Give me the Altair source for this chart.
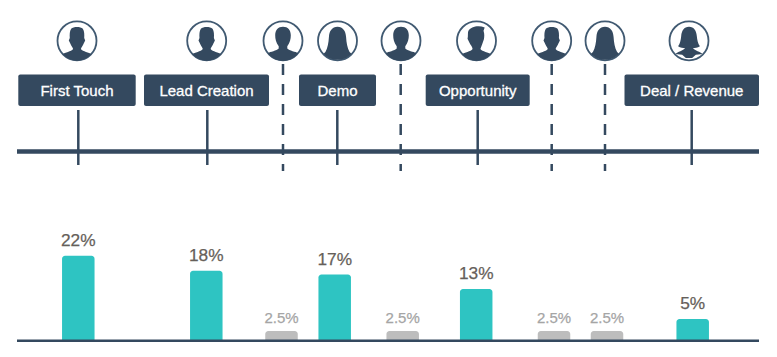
import altair as alt
import pandas as pd

# ---- chart values -------------------------------------------------------
stage_names = ["First Touch", "Lead Creation", "Demo", "Opportunity", "Deal / Revenue"]
stage_left = [18.3, 144, 299, 425.7, 624.5]
stage_right = [135.7, 269, 376, 529.7, 759]
stage_tick = [78.3, 207.3, 337.3, 477.7, 691.7]

touch_tick = [283, 400.7, 551.7, 605]

icon_x = [77, 206.7, 283, 337.5, 401, 476.5, 551.7, 605, 689]
icon_kind = ["man", "man", "man2", "woman", "man2", "man3", "man", "woman", "woman2"]

bar_center = [78.3, 206.3, 281.5, 334.7, 402.7, 476.2, 554, 607, 692.7]
bar_value = [22.1, 18.3, 2.8, 17.3, 2.8, 13.6, 2.8, 2.8, 5.9]
bar_label = ["22%", "18%", "2.5%", "17%", "2.5%", "13%", "2.5%", "2.5%", "5%"]
bar_major = [True, True, False, True, False, True, False, False, True]

NAVY = "#34495f"
RING = "#415a72"
TEAL = "#2ec4c2"
GREY = "#bdbdbd"
W, H = 761, 341

# Silhouettes, in the -1..1 box that a custom symbol uses
PATHS = {
    "man": "M-0.30,-0.62 C-0.18,-0.74 0.18,-0.74 0.30,-0.62 C0.38,-0.5 0.38,-0.3 0.37,-0.15 L0.42,-0.02 L0.35,0.12 C0.3,0.25 0.22,0.32 0.2,0.42 C0.3,0.55 0.62,0.6 0.74,0.68 A0.98,0.98 0 0 1 -0.74,0.68 C-0.62,0.6 -0.3,0.55 -0.2,0.42 C-0.22,0.32 -0.3,0.25 -0.35,0.12 L-0.42,-0.02 L-0.37,-0.15 C-0.38,-0.3 -0.38,-0.5 -0.30,-0.62 Z",
    "man2": "M0,-0.72 C0.25,-0.72 0.4,-0.55 0.4,-0.28 C0.4,-0.1 0.36,0.1 0.22,0.28 L0.22,0.4 C0.32,0.52 0.66,0.56 0.78,0.64 A0.98,0.98 0 0 1 -0.78,0.64 C-0.66,0.56 -0.32,0.52 -0.22,0.4 L-0.22,0.28 C-0.36,0.1 -0.4,-0.1 -0.4,-0.28 C-0.4,-0.55 -0.25,-0.72 0,-0.72 Z",
    "man3": "M-0.42,-0.5 C-0.3,-0.72 0.1,-0.82 0.42,-0.68 L0.36,-0.52 C0.42,-0.35 0.4,-0.2 0.38,-0.08 L0.3,0.15 L0.2,0.42 C0.3,0.55 0.62,0.6 0.74,0.68 A0.98,0.98 0 0 1 -0.74,0.68 C-0.62,0.6 -0.3,0.55 -0.2,0.42 C-0.22,0.3 -0.3,0.22 -0.36,0.1 L-0.46,-0.1 C-0.42,-0.25 -0.46,-0.38 -0.42,-0.5 Z",
    "woman": "M0,-0.72 C0.28,-0.72 0.42,-0.5 0.44,-0.2 C0.46,0.1 0.5,0.35 0.62,0.58 L0.72,0.66 A0.98,0.98 0 0 1 -0.72,0.66 L-0.62,0.58 C-0.5,0.35 -0.46,0.1 -0.44,-0.2 C-0.42,-0.5 -0.28,-0.72 0,-0.72 Z",
    "woman2": "M0,-0.72 C0.26,-0.72 0.38,-0.5 0.4,-0.25 C0.42,-0.05 0.46,0.15 0.56,0.28 C0.44,0.36 0.3,0.38 0.2,0.38 C0.3,0.5 0.58,0.56 0.7,0.68 L0.35,0.72 L0.16,0.88 L-0.16,0.88 L-0.35,0.72 L-0.7,0.68 C-0.58,0.56 -0.3,0.5 -0.2,0.38 C-0.3,0.38 -0.44,0.36 -0.56,0.28 C-0.46,0.15 -0.42,-0.05 -0.4,-0.25 C-0.38,-0.5 -0.26,-0.72 0,-0.72 Z",
}
CIRCLE = "M-1,0 A1,1 0 1 1 1,0 A1,1 0 1 1 -1,0 Z"

# The page margin is 8px, so the domains read directly as picture positions
X = alt.Scale(domain=[8, 8 + W], range=[0, W], nice=False, zero=False, padding=0)
Y = alt.Scale(domain=[8, 8 + H], range=[0, H], nice=False, zero=False)
xq = lambda f="x": alt.X(f"{f}:Q", scale=X, axis=None)
yq = lambda f="y": alt.Y(f"{f}:Q", scale=Y, axis=None)

stages = pd.DataFrame({"name": stage_names, "x": stage_left, "x2": stage_right,
                       "mid": [(a + b) / 2 for a, b in zip(stage_left, stage_right)],
                       "y": [74.5] * 5, "y2": [106] * 5, "ty": [91] * 5})
solid = pd.DataFrame({"x": stage_tick, "y": [110] * 5, "y2": [165] * 5})
dashed = pd.DataFrame({"x": touch_tick, "y": [64] * 4, "y2": [171] * 4})
axis_line = pd.DataFrame({"x": [17], "x2": [759], "y": [151.5]})
base_line = pd.DataFrame({"x": [17], "x2": [759], "y": [340.8]})
icons = pd.DataFrame({"x": icon_x, "y": [40.8] * 9, "kind": icon_kind})

# Bars: percent scale, zero on the picture's baseline, 3.9px per percent
PX_PCT = 3.9
BASE = 342 - 8
YB = alt.Scale(domain=[-(H - BASE) / PX_PCT, BASE / PX_PCT], range=[H, 0], nice=False, zero=False)
bars = pd.DataFrame({"x": bar_center, "v": bar_value, "zero": [0] * 9,
                     "label": bar_label, "major": bar_major})
major = bars[bars.major]
minor = bars[~bars.major]


def bar_layer(df, color):
    return alt.Chart(df).mark_bar(
        color=color, width=32.5, cornerRadiusTopLeft=3, cornerRadiusTopRight=3
    ).encode(x=xq(), y=alt.Y("v:Q", scale=YB, axis=None), y2="zero:Q")


def bar_text(df, color, size, dy):
    return alt.Chart(df).mark_text(
        color=color, stroke=color, strokeWidth=0.25, fontSize=size, font="Liberation Sans",
        baseline="alphabetic", dy=dy
    ).encode(x=xq(), y=alt.Y("v:Q", scale=YB, axis=None), text="label:N")


layers = [
    alt.Chart(dashed).mark_rule(color=NAVY, strokeWidth=2.5, strokeDash=[11, 9]).encode(
        x=xq(), y=yq(), y2="y2:Q"),
    alt.Chart(solid).mark_rule(color=NAVY, strokeWidth=2.5).encode(x=xq(), y=yq(), y2="y2:Q"),
    alt.Chart(axis_line).mark_rule(color=NAVY, strokeWidth=4.5).encode(x=xq(), x2="x2:Q", y=yq()),
    alt.Chart(stages).mark_rect(color=NAVY, cornerRadius=2).encode(
        x=xq(), x2="x2:Q", y=yq(), y2="y2:Q"),
    alt.Chart(stages).mark_text(color="white", stroke="white", strokeWidth=0.3, fontSize=15,
                                font="Liberation Sans", baseline="middle").encode(
        x=xq("mid"), y=yq("ty"), text="name:N"),
    bar_layer(major, TEAL),
    bar_layer(minor, GREY),
    alt.Chart(base_line).mark_rule(color=NAVY, strokeWidth=2.5).encode(x=xq(), x2="x2:Q", y=yq()),
    bar_text(major, "#665f5a", 17.3, -9.5),
    bar_text(minor, "#a5a5a5", 15, -8),
    alt.Chart(icons).mark_point(shape=CIRCLE, size=39 * 39, filled=True, fill="white",
                                stroke=RING, strokeWidth=1.8, opacity=1).encode(x=xq(), y=yq()),
]
for kind, path in PATHS.items():
    layers.append(
        alt.Chart(icons[icons.kind == kind]).mark_point(
            shape=path, size=39 * 39, filled=True, fill=NAVY, strokeWidth=0, opacity=1
        ).encode(x=xq(), y=yq())
    )

chart = alt.layer(*layers).properties(
    width=W, height=H, padding=0, autosize=alt.AutoSizeParams(type="none")
).resolve_scale(y="independent").configure_view(stroke=None)

chart.save("out.html", embed_options={"renderer": "svg", "actions": False})
